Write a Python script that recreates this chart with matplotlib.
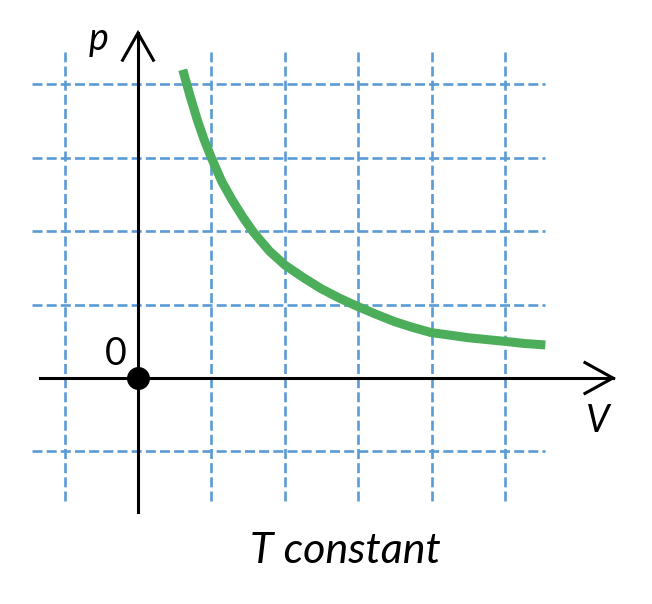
import matplotlib
matplotlib.use("Agg")
import matplotlib.pyplot as plt

plt.rcParams['font.family'] = ['Lato', 'DejaVu Sans']
plt.rcParams['lines.scale_dashes'] = False

# isotherm (V, p in grid units)
V = [0.61, 0.71, 0.81, 0.90, 1.00, 1.14, 1.28, 1.43, 1.57, 1.79, 2.00, 2.25,
     2.49, 2.74, 2.98, 3.24, 3.49, 3.74, 3.99, 4.49, 4.99, 5.27, 5.55]
p = [4.20, 3.84, 3.51, 3.25, 3.00, 2.68, 2.43, 2.19, 1.99, 1.73, 1.54, 1.37,
     1.22, 1.09, 0.98, 0.87, 0.77, 0.69, 0.62, 0.55, 0.50, 0.47, 0.45]

grid_x = [-1, 1, 2, 3, 4, 5]
grid_y = [-1, 1, 2, 3, 4]

GRID_BLUE = '#5B9BD5'
GREEN = '#4CAE5A'

fig = plt.figure(figsize=(6.52, 6.04), dpi=100)
ax = fig.add_axes([0, 0, 1, 1])
ax.set_xlim(-1.880, 7.003)
ax.set_ylim(-3.079, 5.150)
ax.axis('off')

# dashed grid
for gy in grid_y:
    ax.plot([-1.44, 5.55], [gy, gy], color=GRID_BLUE, lw=1.9, dashes=(7.2, 3.0), zorder=1)
for gx in grid_x:
    ax.plot([gx, gx], [-1.68, 4.44], color=GRID_BLUE, lw=1.9, dashes=(7.2, 3.0), zorder=1)

# axes with open arrowheads
ax.plot([-1.335, 6.47], [0, 0], color='black', lw=2.2, zorder=3)
ax.plot([0, 0], [-1.826, 4.70], color='black', lw=2.2, zorder=3)
ax.plot([6.09, 6.47, 6.09], [0.21, 0, -0.21], color='black', lw=2.2, zorder=3, solid_joinstyle='miter')
ax.plot([-0.21, 0, 0.21], [4.33, 4.70, 4.33], color='black', lw=2.2, zorder=3, solid_joinstyle='miter')
ax.plot([0], [0], 'o', color='black', markersize=15.5, zorder=4)

# the curve
ax.plot(V, p, color=GREEN, lw=6.5, solid_capstyle='butt', solid_joinstyle='round', zorder=2)

# labels
ax.text(-0.53, 4.47, 'p', fontsize=27, style='italic', ha='center', va='baseline')
ax.text(6.26, -0.731, 'V', fontsize=27, style='italic', ha='center', va='baseline')
ax.text(-0.30, 0.177, '0', fontsize=27, ha='center', va='baseline')
ax.text(2.82, -2.52, 'T constant', fontsize=31, style='italic', ha='center', va='baseline')

fig.savefig('out.png', dpi=100)
